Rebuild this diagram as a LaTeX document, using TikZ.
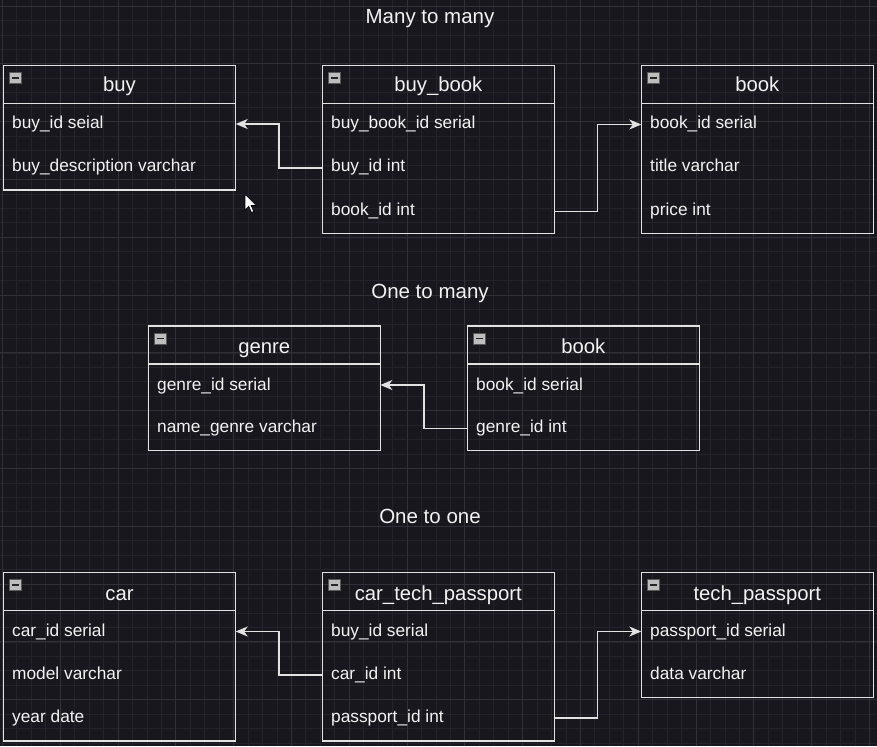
\documentclass[tikz,border=0pt]{standalone}
\usepackage{fontspec}
\setmainfont{Liberation Sans}
\usetikzlibrary{arrows.meta}
\definecolor{bgc}{HTML}{19171E}
\definecolor{gridminor}{HTML}{24222A}
\definecolor{gridmajor}{HTML}{323037}
\definecolor{linec}{HTML}{E2E2E2}
\definecolor{txtc}{HTML}{F2F2F2}
\definecolor{iconc}{HTML}{BDBDBD}
\tikzset{
  tbl/.style={draw=linec, line width=1.4pt, fill=none},
  sep/.style={draw=linec, line width=1.4pt},
  rowtxt/.style={anchor=base west, inner sep=0pt, text=txtc, font=\fontsize{17.3}{20}\selectfont},
  headtxt/.style={anchor=base, inner sep=0pt, text=txtc, font=\fontsize{20.3}{24}\selectfont},
  titletxt/.style={anchor=base, inner sep=0pt, text=txtc, font=\fontsize{20.5}{24}\selectfont},
  conn/.style={draw=linec, line width=1.4pt, -{Stealth[length=12pt,width=10pt,inset=3.5pt]}},
  minusicon/.style={draw=gray!70!black, fill=iconc, line width=0.6pt},
}
\newcommand{\mkicon}[2]{%
  \draw[minusicon] (#1+6,#2+7) rectangle (#1+18,#2+18);
  \draw[black!85, line width=1.8pt] (#1+8.5,#2+12.5) -- (#1+15.5,#2+12.5);
}
\begin{document}
\begin{tikzpicture}[x=1pt,y=-1pt]
\useasboundingbox (0,0) rectangle (877,746);
\fill[bgc] (0,0) rectangle (877,746);
% grid
\foreach \i in {0,...,61} {
  \draw[gridminor, line width=0.6pt] ({2.3+14.45*\i},0) -- ({2.3+14.45*\i},746);
}
\foreach \i in {0,...,52} {
  \draw[gridminor, line width=0.6pt] (0,{6+14.45*\i}) -- (877,{6+14.45*\i});
}
\foreach \i in {0,...,15} {
  \draw[gridmajor, line width=0.7pt] ({2.3+57.8*\i},0) -- ({2.3+57.8*\i},746);
}
\foreach \i in {0,...,13} {
  \draw[gridmajor, line width=0.7pt] (0,{6+57.8*\i}) -- (877,{6+57.8*\i});
}

% titles
\node[titletxt] (t1) at (430,23.3) {Many to many};
\node[titletxt] (t2) at (430,298) {One to many};
\node[titletxt] (t3) at (430,523.3) {One to one};

% ===== Row 1 =====
% buy
\draw[tbl] (3.3,65.7) rectangle (235.7,190);
\draw[sep] (3.3,103.5) -- (235.7,103.5);
\mkicon{3.3}{65.7}
\node[headtxt] (buyh) at (119.5,91.7) {buy};
\node[rowtxt] (buyid) at (12,129) {buy\_id seial};
\node[rowtxt] (buydesc) at (12,171.5) {buy\_description varchar};
\coordinate (buyE) at (235.7,124);

% buy_book
\draw[tbl] (322.3,65.7) rectangle (554.3,233.5);
\draw[sep] (322.3,103.5) -- (554.3,103.5);
\mkicon{322.3}{65.7}
\node[headtxt] (bbh) at (438.3,91.7) {buy\_book};
\node[rowtxt] (bbid) at (331,129) {buy\_book\_id serial};
\node[rowtxt] (bbbuy) at (331,171.5) {buy\_id int};
\node[rowtxt] (bbbook) at (331,215) {book\_id int};
\coordinate (bbW) at (322.3,168);
\coordinate (bbE) at (554.3,211.5);

% book
\draw[tbl] (641.3,65.7) rectangle (873.3,233.5);
\draw[sep] (641.3,103.5) -- (873.3,103.5);
\mkicon{641.3}{65.7}
\node[headtxt] (bkh) at (757.3,91.7) {book};
\node[rowtxt] (bkid) at (650,129) {book\_id serial};
\node[rowtxt] (bktitle) at (650,171.5) {title varchar};
\node[rowtxt] (bkprice) at (650,215) {price int};
\coordinate (bkW) at (641.3,124.5);

\draw[conn] (bbW) -- (279,168) |- (buyE);
\draw[conn] (bbE) -- (597.7,211.5) |- (bkW);

% cursor
\draw[black, fill=white, line width=0.6pt, line join=miter] (245,194.3) -- (245,210) -- (248.8,206.3) -- (251.4,212.5) -- (253.7,211.5) -- (251.1,205.5) -- (256.3,205.5) -- cycle;

% ===== Row 2 =====
% genre
\draw[tbl] (148.3,326) rectangle (380.3,450.7);
\draw[sep] (148.3,364) -- (380.3,364);
\mkicon{148.3}{326}
\node[headtxt] (gh) at (264.3,353) {genre};
\node[rowtxt] (gid) at (157,390) {genre\_id serial};
\node[rowtxt] (gname) at (157,432.7) {name\_genre varchar};
\coordinate (gE) at (380.3,385);

% book 2
\draw[tbl] (467.3,326) rectangle (699.3,450.7);
\draw[sep] (467.3,364) -- (699.3,364);
\mkicon{467.3}{326}
\node[headtxt] (b2h) at (583.3,353) {book};
\node[rowtxt] (b2id) at (476,390) {book\_id serial};
\node[rowtxt] (b2g) at (476,432.7) {genre\_id int};
\coordinate (b2W) at (467.3,428.5);

\draw[conn] (b2W) -- (424,428.5) |- (gE);

% ===== Row 3 =====
% car
\draw[tbl] (3.3,572.7) rectangle (235.7,741);
\draw[sep] (3.3,610.7) -- (235.7,610.7);
\mkicon{3.3}{572.7}
\node[headtxt] (ch) at (119.5,600) {car};
\node[rowtxt] (cid) at (12,636) {car\_id serial};
\node[rowtxt] (cmodel) at (12,679.3) {model varchar};
\node[rowtxt] (cyear) at (12,722.3) {year date};
\coordinate (cE) at (235.7,631.5);

% car_tech_passport
\draw[tbl] (322.3,572.7) rectangle (554.3,741);
\draw[sep] (322.3,610.7) -- (554.3,610.7);
\mkicon{322.3}{572.7}
\node[headtxt] (ctph) at (438.3,600) {car\_tech\_passport};
\node[rowtxt] (ctpbuy) at (331,636) {buy\_id serial};
\node[rowtxt] (ctpcar) at (331,679.3) {car\_id int};
\node[rowtxt] (ctppass) at (331,722.3) {passport\_id int};
\coordinate (ctpW) at (322.3,675);
\coordinate (ctpE) at (554.3,718);

% tech_passport
\draw[tbl] (641.3,572.7) rectangle (873.3,697.5);
\draw[sep] (641.3,610.7) -- (873.3,610.7);
\mkicon{641.3}{572.7}
\node[headtxt] (tph) at (757.3,600) {tech\_passport};
\node[rowtxt] (tpid) at (650,636) {passport\_id serial};
\node[rowtxt] (tpdata) at (650,679.3) {data varchar};
\coordinate (tpW) at (641.3,631.5);

\draw[conn] (ctpW) -- (279,675) |- (cE);
\draw[conn] (ctpE) -- (597.7,718) |- (tpW);
\end{tikzpicture}
\end{document}
